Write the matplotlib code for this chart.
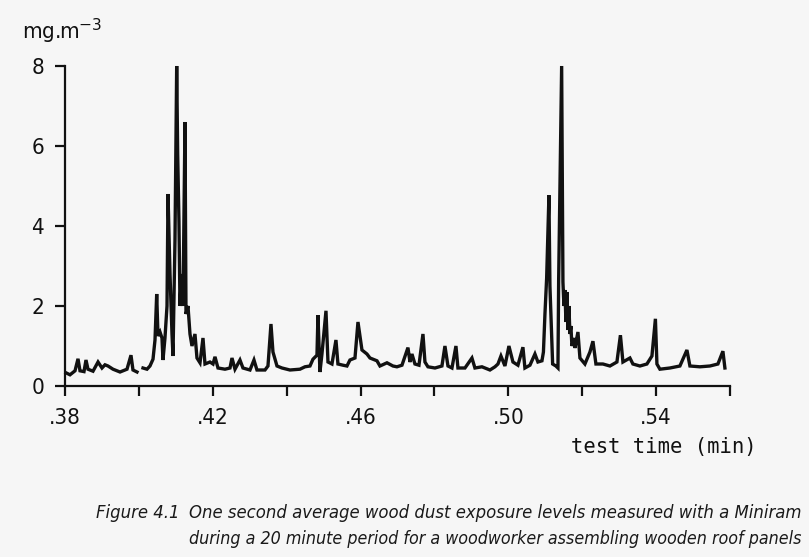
import numpy as np
import matplotlib
matplotlib.use("Agg")
import matplotlib.pyplot as plt

# test time (axis units) and dust concentration (mg.m-3)
time_a = [0.38027, 0.38135, 0.38271, 0.38352, 0.38406, 0.38514, 0.38568, 0.38622,
          0.38758, 0.38894, 0.39001, 0.39083, 0.39164, 0.39299, 0.39489, 0.39678,
          0.39786, 0.39840, 0.39949]
conc_a = [0.33, 0.28, 0.38, 0.68, 0.38, 0.36, 0.65, 0.42,
          0.37, 0.60, 0.45, 0.53, 0.50, 0.42, 0.35, 0.42,
          0.77, 0.40, 0.35]

time_b = [0.40111, 0.40219, 0.40300, 0.40382, 0.40436, 0.40482, 0.40517, 0.40571,
          0.40625, 0.40652, 0.40706, 0.40761, 0.40788, 0.40842, 0.40896, 0.40923,
          0.40977, 0.41023, 0.41050, 0.41085, 0.41112, 0.41153, 0.41194, 0.41248,
          0.41275, 0.41329, 0.41383, 0.41437, 0.41518, 0.41572, 0.41654, 0.41735,
          0.41789, 0.41924, 0.42006, 0.42060, 0.42141, 0.42330, 0.42466, 0.42520,
          0.42601, 0.42736, 0.42817, 0.43007, 0.43115, 0.43196, 0.43413, 0.43494,
          0.43575, 0.43629, 0.43738, 0.43873, 0.44089, 0.44360, 0.44495, 0.44631,
          0.44712, 0.44820, 0.44847, 0.44901, 0.44955, 0.45064, 0.45118, 0.45226,
          0.45334, 0.45388, 0.45524, 0.45632, 0.45713, 0.45849, 0.45930, 0.46038,
          0.46173, 0.46255, 0.46444, 0.46525, 0.46715, 0.46877, 0.46985, 0.47121,
          0.47283, 0.47337, 0.47391, 0.47472, 0.47581, 0.47689, 0.47743, 0.47824,
          0.48014, 0.48203, 0.48284, 0.48366, 0.48474, 0.48582, 0.48636, 0.48826,
          0.49015, 0.49096, 0.49286, 0.49502, 0.49638, 0.49719, 0.49800, 0.49908,
          0.50016, 0.50125, 0.50260, 0.50395, 0.50449, 0.50585, 0.50720, 0.50801,
          0.50910, 0.50950, 0.50991, 0.51037, 0.51099, 0.51126, 0.51199, 0.51288,
          0.51343, 0.51362, 0.51443, 0.51478, 0.51505, 0.51532, 0.51559, 0.51586,
          0.51613, 0.51640, 0.51667, 0.51694, 0.51721, 0.51776, 0.51803,
          0.51884, 0.51938, 0.52073, 0.52209, 0.52290, 0.52371,
          0.52560, 0.52750, 0.52939, 0.53034, 0.53102, 0.53291, 0.53372, 0.53562,
          0.53751, 0.53887, 0.53981, 0.54022, 0.54103, 0.54374, 0.54644, 0.54834,
          0.54915, 0.55186, 0.55456, 0.55673, 0.55808, 0.55862]
conc_b = [0.45, 0.42, 0.50, 0.67, 1.15, 2.30, 1.25, 1.35,
          1.20, 0.65, 1.20, 2.00, 4.80, 2.80, 1.30, 0.75,
          3.65, 8.00, 5.80, 4.10, 2.00, 2.80, 2.00, 6.60,
          1.80, 2.00, 1.30, 1.00, 1.30, 0.70, 0.58, 1.20,
          0.55, 0.60, 0.55, 0.73, 0.45, 0.42, 0.45, 0.70,
          0.42, 0.65, 0.45, 0.40, 0.65, 0.40, 0.40, 0.50,
          1.55, 0.85, 0.50, 0.45, 0.40, 0.42, 0.48, 0.50,
          0.67, 0.77, 1.77, 0.35, 0.80, 1.88, 0.60, 0.55,
          1.15, 0.55, 0.52, 0.50, 0.65, 0.70, 1.60, 0.90,
          0.80, 0.70, 0.63, 0.50, 0.58, 0.50, 0.48, 0.52,
          0.96, 0.60, 0.80, 0.55, 0.52, 1.30, 0.60, 0.48,
          0.45, 0.50, 1.00, 0.50, 0.45, 1.00, 0.45, 0.45,
          0.70, 0.45, 0.48, 0.40, 0.48, 0.55, 0.75, 0.50,
          1.00, 0.60, 0.52, 0.97, 0.45, 0.52, 0.80, 0.60,
          0.63, 0.85, 1.80, 2.70, 4.77, 2.50, 0.55, 0.50,
          0.45, 2.65, 8.00, 2.60, 2.00, 2.40, 1.60, 2.35,
          1.40, 2.00, 1.30, 1.50, 1.00, 1.20, 0.95,
          1.35, 0.70, 0.55, 0.85, 1.12, 0.55,
          0.55, 0.50, 0.60, 1.27, 0.60, 0.70, 0.55, 0.50,
          0.55, 0.75, 1.68, 0.55, 0.42, 0.45, 0.50, 0.90,
          0.50, 0.48, 0.50, 0.55, 0.87, 0.45]

x_ticks = [0.38, 0.40, 0.42, 0.44, 0.46, 0.48, 0.50, 0.52, 0.54, 0.56]
x_tick_labels = [".38", "", ".42", "", ".46", "", ".50", "", ".54", ""]
y_ticks = [0, 2, 4, 6, 8]
y_tick_labels = ["0", "2", "4", "6", "8"]

caption_label = "Figure 4.1"
caption_line1 = "One second average wood dust exposure levels measured with a Miniram"
caption_line2 = "during a 20 minute period for a woodworker assembling wooden roof panels"

bg = "#f6f6f6"
ink = "#111111"
fig = plt.figure(figsize=(8.09, 5.57), dpi=100, facecolor=bg)
ax = fig.add_axes([65 / 809, 1 - 386 / 557, (730 - 65) / 809, (386 - 66) / 557])
ax.set_facecolor(bg)

ax.plot(time_a, conc_a, color=ink, lw=2.4, solid_joinstyle="miter", clip_on=False)
ax.plot(time_b, conc_b, color=ink, lw=2.4, solid_joinstyle="miter", clip_on=False)

ax.set_xlim(0.38, 0.56)
ax.set_ylim(0, 8)
for s in ("top", "right"):
    ax.spines[s].set_visible(False)
for s in ("left", "bottom"):
    ax.spines[s].set_linewidth(1.6)
    ax.spines[s].set_color(ink)

tick_font = dict(family="DejaVu Sans", stretch="condensed", size=16)
ax.set_xticks(x_ticks)
ax.set_xticklabels(x_tick_labels, **tick_font)
ax.set_yticks(y_ticks)
ax.set_yticklabels(y_tick_labels, **tick_font)
ax.tick_params(axis="both", direction="out", length=7, width=1.6, color=ink,
               labelcolor=ink)
ax.tick_params(axis="x", pad=9)
ax.tick_params(axis="y", pad=8)

fig.text(22 / 809, 1 - 31 / 557, "mg.m$^{-3}$", fontsize=16, family="DejaVu Sans",
         stretch="condensed", color=ink, va="center", ha="left")
fig.text(757 / 809, 1 - 447 / 557, "test time (min)", fontsize=14.8, family="DejaVu Sans Mono",
         color=ink, va="center", ha="right")

cap_font = dict(family="DejaVu Sans", style="italic", stretch="condensed", size=14, color="#1a1a1a")
t0 = fig.text(179 / 809, 1 - 513 / 557, caption_label, va="center", ha="right", **cap_font)
t1 = fig.text(189 / 809, 1 - 513 / 557, caption_line1, va="center", ha="left", **cap_font)
t2 = fig.text(189 / 809, 1 - 539 / 557, caption_line2, va="center", ha="left", **cap_font)

# fit caption lines to the widths they occupy in the reference
fig.canvas.draw()
r = fig.canvas.get_renderer()
sizes = []
for t, target in ((t1, 614), (t2, 614)):
    w = t.get_window_extent(renderer=r).width
    t.set_fontsize(t.get_fontsize() * target / w)
    sizes.append(t.get_fontsize())
t0.set_fontsize(sizes[0])

fig.savefig("out.png", dpi=100, facecolor=bg)
